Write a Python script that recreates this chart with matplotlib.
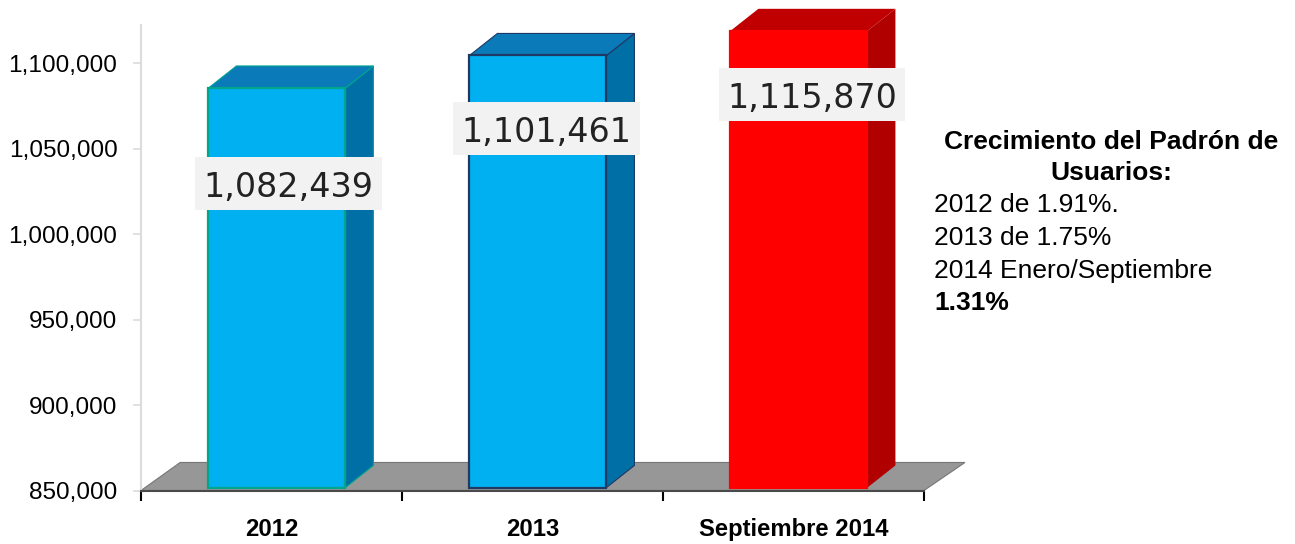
# -*- coding: utf-8 -*-
"""
Padron de usuarios 2012 - septiembre 2014 (barras con efecto 3D)
"""

import numpy as np
import matplotlib
matplotlib.use("Agg")
import matplotlib.pyplot as plt
from matplotlib.patches import Polygon, Rectangle

# datos
categories = ["2012", "2013", "Septiembre 2014"]
usuarios = [1082439, 1101461, 1115870]
value_labels = ["1,082,439", "1,101,461", "1,115,870"]
y_ticks = [850000, 900000, 950000, 1000000, 1050000, 1100000]
notes = ["2012 de 1.91%.", "2013 de 1.75%", "2014 Enero/Septiembre"]

# estilo
front_colors = ["#00b0f0", "#00b0f0", "#ff0000"]
edge_colors = ["#00a58c", "#1f3864", "#ff0000"]
top_colors = ["#0a7ab8", "#0a7ab8", "#c00000"]
side_colors = ["#006fa6", "#006fa6", "#b00000"]
label_drop = [52700, 39500, 34500]      # distancia valor -> centro de la etiqueta
label_shift = [0.065, 0.052, 0.071]     # corrimiento horizontal de la etiqueta

plt.rcParams["font.family"] = ["Liberation Sans", "DejaVu Sans"]

W, H = 1295, 544
Y_MIN, Y_MAX = 850000, 1122300
BAR_W = 0.525
BAR_SHIFT = 0.021
DEPTH_X = 0.107
DEPTH_Y = 12900
LIFT = 3000       # el frente de la barra queda un poco sobre la escala
BAR_BASE = 851750

fig = plt.figure(figsize=(W / 100, H / 100), dpi=100)
ax = fig.add_axes([141 / W, (H - 490.5) / H, 783 / W, 465.5 / H])
ax.set_xlim(0, 3)
ax.set_ylim(Y_MIN, Y_MAX)

# piso
floor = Polygon([(0, Y_MIN), (0.15, 866400), (3.157, 866400), (3, Y_MIN)],
                closed=True, facecolor="#979797", edgecolor="#777777", linewidth=0.8,
                clip_on=False, zorder=1)
ax.add_patch(floor)

x_pos = np.arange(len(categories)) + 0.5

for i, val in enumerate(usuarios):
    left = x_pos[i] + BAR_SHIFT - BAR_W / 2
    right = left + BAR_W
    top = val + LIFT

    # cara lateral
    ax.add_patch(Polygon([(right, BAR_BASE), (right + DEPTH_X, BAR_BASE + DEPTH_Y),
                          (right + DEPTH_X, top + DEPTH_Y), (right, top)],
                         closed=True, facecolor=side_colors[i], edgecolor=edge_colors[i] if i < 2 else "none",
                         linewidth=0.8, clip_on=False, zorder=2))
    # cara superior
    ax.add_patch(Polygon([(left, top), (left + DEPTH_X, top + DEPTH_Y),
                          (right + DEPTH_X, top + DEPTH_Y), (right, top)],
                         closed=True, facecolor=top_colors[i], edgecolor=edge_colors[i] if i < 2 else "none",
                         linewidth=0.8, clip_on=False, zorder=2))
    # frente
    ax.bar(x_pos[i] + BAR_SHIFT, top - BAR_BASE, BAR_W, bottom=BAR_BASE,
           color=front_colors[i], edgecolor=edge_colors[i], linewidth=1.6,
           clip_on=False, zorder=3)

    # etiqueta con fondo gris
    cx = x_pos[i] + label_shift[i]
    cy = val - label_drop[i]
    ax.add_patch(Rectangle((cx - 0.358, cy - 15500), 0.716, 31000,
                           facecolor="#f2f2f2", edgecolor="none",
                           clip_on=False, zorder=4))
    ax.text(cx, cy - 2300, value_labels[i], ha="center", va="center", fontsize=24,
            family=["DejaVu Sans"], color="#222222", zorder=5)

# ejes
for s in ["top", "right"]:
    ax.spines[s].set_visible(False)
ax.spines["left"].set_color("#dcdcdc")
ax.spines["left"].set_linewidth(1.5)
ax.spines["bottom"].set_color("#4a4a4a")
ax.spines["bottom"].set_linewidth(1.5)
ax.spines["bottom"].set_zorder(6)

ax.set_yticks(y_ticks)
ax.set_yticklabels([f"{t:,}" for t in y_ticks], fontsize=17.6, color="black")
ax.tick_params(axis="y", length=6, width=1.2, color="#dcdcdc", pad=11)

ax.set_xticks([0, 1, 2, 3])
ax.set_xticklabels([])
ax.tick_params(axis="x", which="major", length=7, width=1.5, color="black")
ax.set_xticks(x_pos, minor=True)
ax.set_xticklabels(categories, minor=True, fontsize=17.2, fontweight="bold")
ax.tick_params(axis="x", which="minor", length=0, pad=20)

# nota de la derecha
fig.text(1111 / W, 1 - 142 / H, "Crecimiento del Padrón de", ha="center", va="center",
         fontsize=19, fontweight="bold")
fig.text(1111 / W, 1 - 173 / H, "Usuarios:", ha="center", va="center",
         fontsize=19, fontweight="bold")
for y_px, line in zip([205, 238, 271], notes):
    fig.text(934 / W, 1 - y_px / H, line, ha="left", va="center", fontsize=19)
fig.text(934 / W, 1 - 303 / H, "1.31%", ha="left", va="center",
         fontsize=19, fontweight="bold")

fig.savefig("out.png", dpi=100)
